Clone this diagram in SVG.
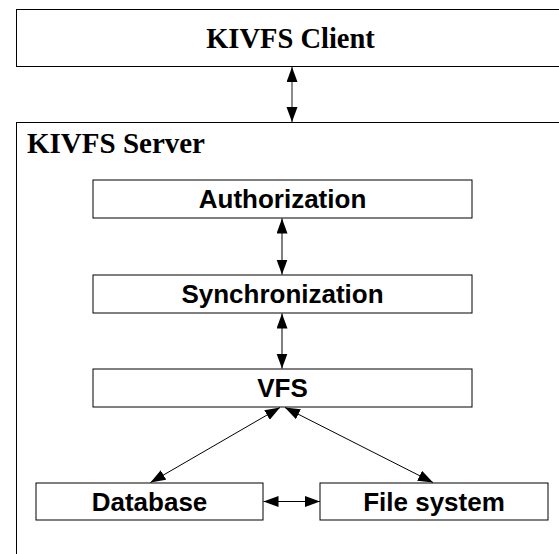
<svg xmlns="http://www.w3.org/2000/svg" width="559" height="554" viewBox="0 0 559 554">
<style>
  .box { fill: #fff; stroke: #000; stroke-width: 1; }
  .title { font-family: "Liberation Serif", "Times New Roman", serif; font-weight: bold; font-size: 28.5px; fill: #000; }
  .lbl { font-family: "Liberation Sans", Arial, sans-serif; font-weight: bold; font-size: 26px; fill: #000; text-anchor: middle; }
  .conn { stroke: #000; stroke-width: 1; fill: none; marker-start: url(#ah); marker-end: url(#ah); }
</style>
<defs>
  <marker id="ah" markerUnits="userSpaceOnUse" markerWidth="16" markerHeight="12" refX="15" refY="5.5" orient="auto-start-reverse">
    <path d="M0,0 L15,5.5 L0,11 z" fill="#000"/>
  </marker>
</defs>
<rect width="559" height="554" fill="#fff"/>
<g id="client">
  <rect class="box" x="16.5" y="9.5" width="600" height="57"/>
  <text class="title" x="290.5" y="48" text-anchor="middle">KIVFS Client</text>
</g>
<g id="server">
  <rect class="box" x="16.5" y="122.5" width="600" height="500"/>
  <text class="title" x="27" y="153" style="font-size:29px">KIVFS Server</text>
</g>
<g id="authorization">
  <rect class="box" x="93" y="180" width="379" height="38"/>
  <text class="lbl" x="282.5" y="208">Authorization</text>
</g>
<g id="synchronization">
  <rect class="box" x="93" y="275" width="379" height="38"/>
  <text class="lbl" x="282.5" y="303">Synchronization</text>
</g>
<g id="vfs">
  <rect class="box" x="93" y="369" width="379" height="38"/>
  <text class="lbl" x="282.5" y="397">VFS</text>
</g>
<g id="database">
  <rect class="box" x="36" y="483" width="227" height="37"/>
  <text class="lbl" x="149.5" y="511">Database</text>
</g>
<g id="filesystem">
  <rect class="box" x="320" y="483" width="228" height="37"/>
  <text class="lbl" x="434" y="511">File system</text>
</g>
<g id="connectors">
  <line class="conn" x1="292" y1="67" x2="292" y2="122" style="stroke:#666;stroke-width:1.5"/>
  <line class="conn" x1="282" y1="218.5" x2="282" y2="274.5"/>
  <line class="conn" x1="282" y1="313.5" x2="282" y2="368.5"/>
  <line class="conn" x1="280" y1="407.5" x2="150.5" y2="482.5"/>
  <line class="conn" x1="285" y1="407.5" x2="433" y2="482.5"/>
  <line class="conn" x1="263.5" y1="501.5" x2="320" y2="501.5"/>
</g>
</svg>
